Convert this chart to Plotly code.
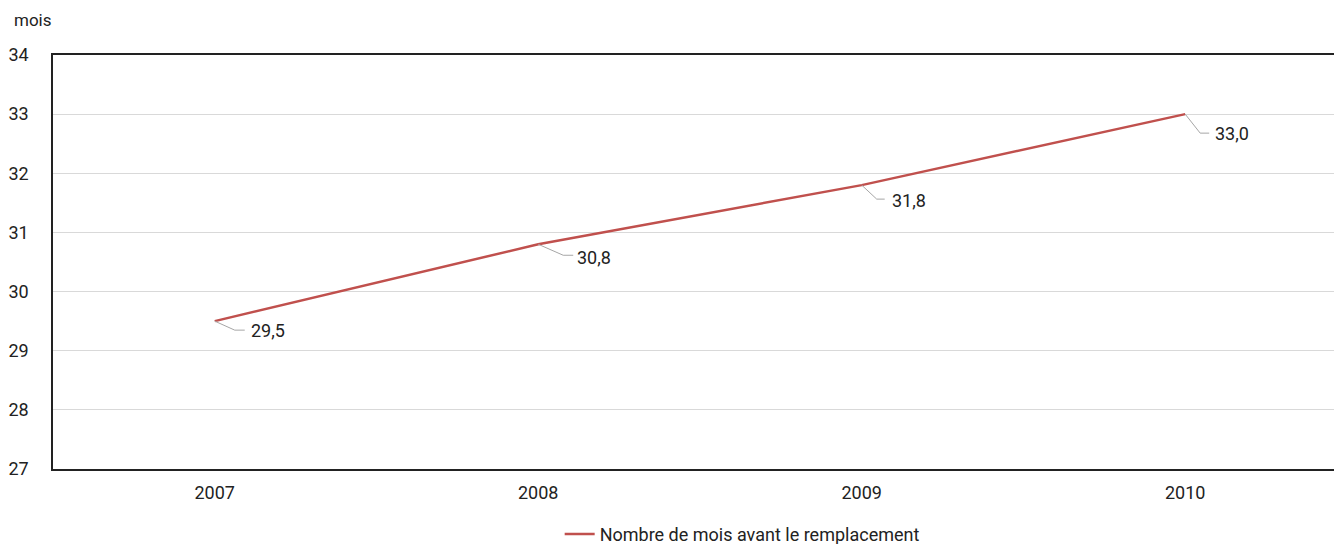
import plotly.graph_objects as go

years = ["2007", "2008", "2009", "2010"]
values = [29.5, 30.8, 31.8, 33.0]
labels = ["29,5", "30,8", "31,8", "33,0"]
series_name = "Nombre de mois avant le remplacement"
y_ticks = [27, 28, 29, 30, 31, 32, 33, 34]

# label placement (pixels): leader elbow dx, leader end dx, drop dy, text dx, text dy
label_style = [
    (20, 30, 9, 34, 9),
    (25, 35, 11, 37, 13),
    (15, 23, 14, 28, 15),
    (15, 24, 19, 28, 19),
]

FONT = "Roboto, Arial, sans-serif"
RED = "#C0504D"

fig = go.Figure()
fig.add_trace(go.Scatter(
    x=list(range(len(years))), y=values, mode="lines",
    line=dict(color=RED, width=2.5), name=series_name,
))

for i, (v, t) in enumerate(zip(values, labels)):
    ex, endx, dy, tx, ty = label_style[i]
    fig.add_shape(type="path", xref="x", yref="y", xsizemode="pixel", ysizemode="pixel",
                  xanchor=i, yanchor=v, path=f"M0,0 L{ex},{-dy} L{endx},{-dy}",
                  line=dict(color="#A6A6A6", width=1))
    fig.add_annotation(x=i, y=v, text=t, showarrow=False, xanchor="left", yanchor="middle",
                       xshift=tx, yshift=-ty, font=dict(family=FONT, size=18, color="#222222"))

fig.add_annotation(xref="paper", yref="paper", x=-0.032, y=1.0845, text="mois",
                   showarrow=False, xanchor="left", yanchor="middle",
                   font=dict(family=FONT, size=17, color="#222222"))

fig.update_layout(
    width=1334, height=544,
    margin=dict(l=53, r=0, t=55, b=75, autoexpand=False),
    paper_bgcolor="white", plot_bgcolor="white",
    font=dict(family=FONT, size=18, color="#222222"),
    showlegend=True,
    legend=dict(orientation="h", x=0.538, xanchor="center", yref="container", y=0.018,
                yanchor="middle", font=dict(family=FONT, size=18, color="#222222")),
    xaxis=dict(range=[-0.5, 3.46], tickmode="array", tickvals=list(range(len(years))),
               ticktext=years, showgrid=False, showline=True, linecolor="#222222", linewidth=1.5,
               mirror=True, ticks="", zeroline=False, fixedrange=True, ticklabelstandoff=7),
    yaxis=dict(range=[27, 34], tickmode="array", tickvals=y_ticks, ticktext=[str(t) for t in y_ticks],
               showgrid=True, gridcolor="#D9D9D9", gridwidth=1, showline=True, linecolor="#222222",
               linewidth=1.5, ticks="", zeroline=False, ticklabelstandoff=19, fixedrange=True),
)

fig.write_html("out.html", config={"displayModeBar": False},
               post_script="document.body.style.margin='0';document.body.style.overflow='hidden';")
